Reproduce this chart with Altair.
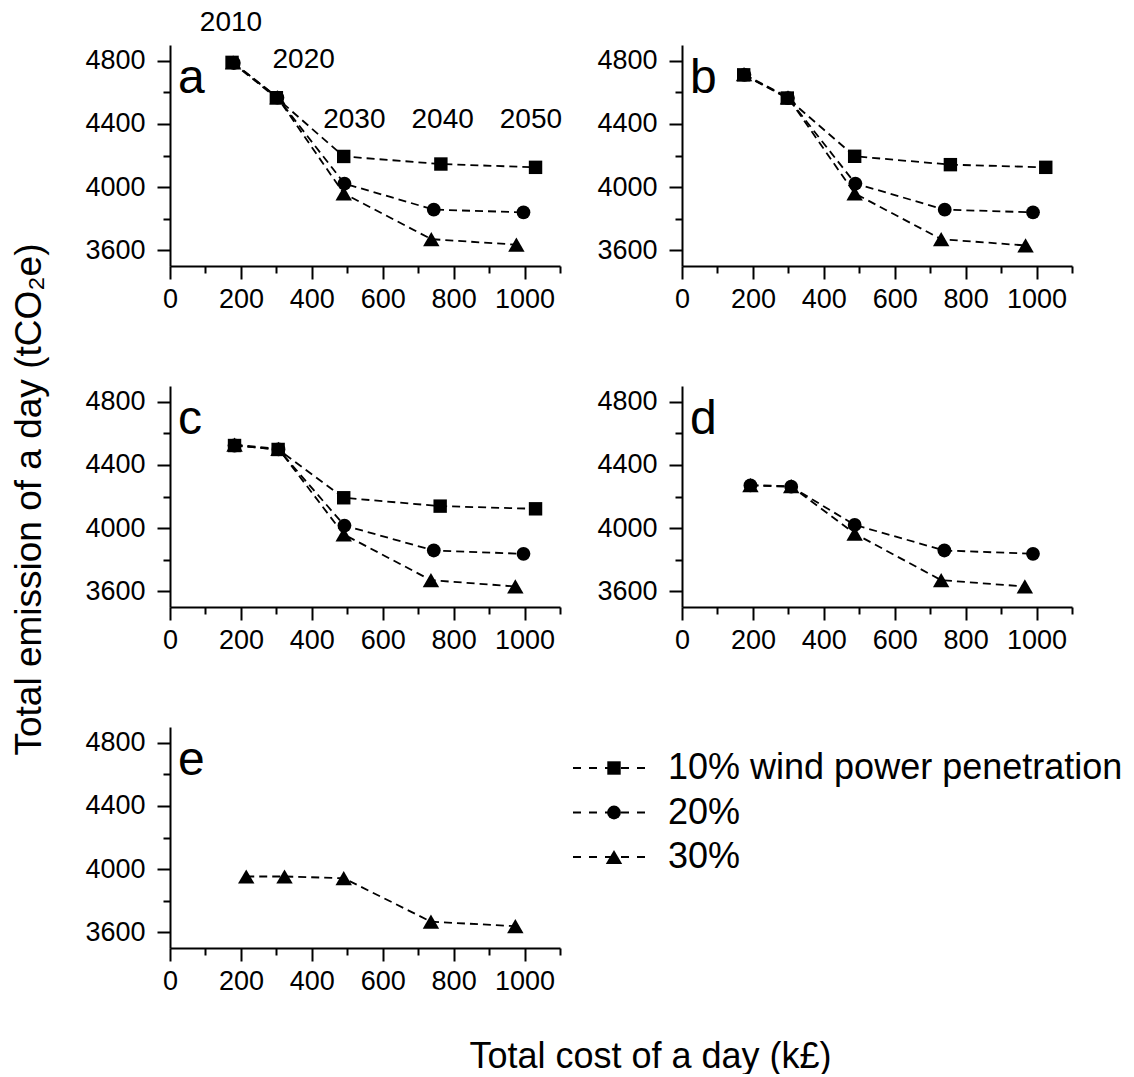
import altair as alt
import pandas as pd

FONT = "Liberation Sans"

series_names = ["10% wind power penetration", "20%", "30%"]
shapes = ["square", "circle", "triangle-up"]
marker_sizes = [180, 190, 270]
years = [2010, 2020, 2030, 2040, 2050]
panel_letters = ["a", "b", "c", "d", "e"]

# panel a
a_cost_10 = [175, 300, 490, 764, 1031]
a_emis_10 = [4790, 4566, 4194, 4146, 4125]
a_cost_20 = [180, 303, 492, 744, 997]
a_emis_20 = [4786, 4566, 4022, 3857, 3840]
a_cost_30 = [178, 303, 490, 737, 977]
a_emis_30 = [4790, 4568, 3960, 3670, 3635]
# panel b
b_cost_10 = [174, 297, 487, 757, 1026]
b_emis_10 = [4711, 4564, 4195, 4142, 4125]
b_cost_20 = [176, 299, 489, 741, 990]
b_emis_20 = [4711, 4564, 4022, 3857, 3840]
b_cost_30 = [175, 299, 487, 731, 969]
b_emis_30 = [4715, 4568, 3960, 3670, 3630]
# panel c
c_cost_10 = [182, 305, 490, 762, 1031]
c_emis_10 = [4523, 4498, 4192, 4139, 4122]
c_cost_20 = [182, 306, 492, 744, 997]
c_emis_20 = [4523, 4498, 4016, 3858, 3837]
c_cost_30 = [182, 306, 490, 736, 974]
c_emis_30 = [4528, 4502, 3960, 3670, 3630]
# panel d
d_cost_20 = [193, 308, 487, 740, 990]
d_emis_20 = [4270, 4262, 4020, 3858, 3837]
d_cost_30 = [193, 308, 487, 731, 967]
d_emis_30 = [4272, 4265, 3965, 3670, 3630]
# panel e
e_cost_30 = [215, 323, 490, 736, 974]
e_emis_30 = [3953, 3953, 3942, 3667, 3638]

# year annotations on panel a (data units)
year_label_cost = [172, 377, 520, 769, 1018]
year_label_emis = [5042, 4806, 4427, 4427, 4427]

x_major = [0, 200, 400, 600, 800, 1000]
x_minor = [100, 300, 500, 700, 900, 1100]
y_major = [3600, 4000, 4400, 4800]
y_minor = [3800, 4200, 4600]

W, H = 390, 221


def make_df(pairs):
    rows = []
    for name, costs, emis in pairs:
        for yr, c, e in zip(years, costs, emis):
            rows.append({"series": name, "year": yr, "cost": c, "emission": e})
    return pd.DataFrame(rows)


panel_data = {
    "a": make_df([(series_names[0], a_cost_10, a_emis_10),
                  (series_names[1], a_cost_20, a_emis_20),
                  (series_names[2], a_cost_30, a_emis_30)]),
    "b": make_df([(series_names[0], b_cost_10, b_emis_10),
                  (series_names[1], b_cost_20, b_emis_20),
                  (series_names[2], b_cost_30, b_emis_30)]),
    "c": make_df([(series_names[0], c_cost_10, c_emis_10),
                  (series_names[1], c_cost_20, c_emis_20),
                  (series_names[2], c_cost_30, c_emis_30)]),
    "d": make_df([(series_names[1], d_cost_20, d_emis_20),
                  (series_names[2], d_cost_30, d_emis_30)]),
    "e": make_df([(series_names[2], e_cost_30, e_emis_30)]),
}

shape_scale = alt.Scale(domain=series_names, range=shapes)
size_scale = alt.Scale(type="ordinal", domain=series_names, range=marker_sizes)


def panel(letter, ytitle=False, xtitle=False, year_labels=False):
    df = panel_data[letter]
    xs = alt.Scale(domain=[0, 1100], nice=False, zero=False)
    ys = alt.Scale(domain=[3500, 4900], nice=False, zero=False)
    xaxis_kw = dict(orient="bottom", values=x_major, format="d", tickSize=13,
                    tickWidth=2, domainWidth=2, labelFontSize=27, labelPadding=7,
                    grid=False, labelFlush=False, labelFont=FONT)
    if xtitle:
        xaxis_kw.update(title="Total cost of a day (k£)", titleX=480, titleY=119,
                        titleBaseline="alphabetic", titleFontSize=36,
                        titleFontWeight="normal", titleFont=FONT)
    else:
        xaxis_kw.update(title=None)
    yaxis_kw = dict(orient="left", values=y_major, format="d", tickSize=13,
                    tickWidth=2, domainWidth=2, labelFontSize=27, labelPadding=12,
                    grid=False, labelFlush=False, labelFont=FONT)
    if ytitle:
        yaxis_kw.update(title="Total emission of a day (tCO₂e)", titleX=-130,
                        titleY=113, titleAngle=270, titleBaseline="alphabetic",
                        titleFontSize=37, titleFontWeight="normal", titleFont=FONT)
    else:
        yaxis_kw.update(title=None)

    lines = alt.Chart(df).mark_line(
        color="black", strokeDash=[8, 5], strokeWidth=1.8
    ).encode(
        x=alt.X("cost:Q", scale=xs, axis=alt.Axis(**xaxis_kw)),
        y=alt.Y("emission:Q", scale=ys, axis=alt.Axis(**yaxis_kw)),
        detail="series:N",
        order="year:Q",
    )
    minor = alt.Chart(df).mark_point(opacity=0).encode(
        x=alt.X("cost:Q", scale=xs, axis=alt.Axis(
            orient="bottom", values=x_minor, labels=False, domain=False,
            tickSize=7, tickWidth=2, grid=False, title=None)),
        y=alt.Y("emission:Q", scale=ys, axis=alt.Axis(
            orient="left", values=y_minor, labels=False, domain=False,
            tickSize=7, tickWidth=2, grid=False, title=None)),
    )
    pts = alt.Chart(df).mark_point(filled=True, opacity=1, color="black").encode(
        x=alt.X("cost:Q", scale=xs, axis=None),
        y=alt.Y("emission:Q", scale=ys, axis=None),
        shape=alt.Shape("series:N", scale=shape_scale, legend=None),
        size=alt.Size("series:N", scale=size_scale, legend=None),
    )
    lab = alt.Chart(pd.DataFrame({"letter": [letter]})).mark_text(
        font=FONT, fontSize=48, align="left", baseline="alphabetic", color="black"
    ).encode(text="letter:N", x=alt.value(8), y=alt.value(48))
    layers = [minor, lines, pts, lab]
    if year_labels:
        ydf = pd.DataFrame({"year": [str(y) for y in years],
                            "cost": year_label_cost, "emission": year_label_emis})
        yl = alt.Chart(ydf).mark_text(
            font=FONT, fontSize=28, align="center", baseline="middle", color="black"
        ).encode(
            x=alt.X("cost:Q", scale=xs, axis=None),
            y=alt.Y("emission:Q", scale=ys, axis=None),
            text="year:N",
        )
        layers.append(yl)
    return alt.layer(*layers).resolve_axis(x="independent", y="independent").properties(
        width=W, height=H)


pa = panel("a", year_labels=True)
pb = panel("b")
pc = panel("c", ytitle=True)
pd_ = panel("d")
pe = panel("e", xtitle=True)

leg_df = pd.DataFrame({"series": series_names})
leg_y = alt.Y("series:N", sort=series_names,
              scale=alt.Scale(type="point", range=[41, 130], padding=0), axis=None)
leg_rules = alt.Chart(leg_df).mark_rule(color="black", strokeDash=[8, 8], strokeWidth=2).encode(
    x=alt.value(-109), x2=alt.value(-31), y=leg_y)
leg_pts = alt.Chart(leg_df).mark_point(filled=True, opacity=1, color="black").encode(
    x=alt.value(-68), y=leg_y,
    shape=alt.Shape("series:N", scale=shape_scale, legend=None),
    size=alt.Size("series:N", scale=size_scale, legend=None))
leg_txt = alt.Chart(leg_df).mark_text(
    font=FONT, fontSize=36, align="left", baseline="middle", color="black"
).encode(x=alt.value(-14), y=leg_y, text="series:N")
legend = alt.layer(leg_rules, leg_pts, leg_txt).properties(width=W, height=H)

chart = alt.concat(
    pa, pb, pc, pd_, pe, legend,
    columns=2, spacing={"row": 120, "column": 122}, bounds="flush",
).properties(
    padding={"left": 9, "top": 8, "right": 0, "bottom": 0},
    background="white",
).configure_view(strokeWidth=0, stroke="transparent").configure_axis(
    labelFont=FONT, titleFont=FONT, labelColor="black", titleColor="black",
    domainColor="black", tickColor="black",
)

chart.save("out.html", embed_options={"renderer": "svg", "actions": False})
